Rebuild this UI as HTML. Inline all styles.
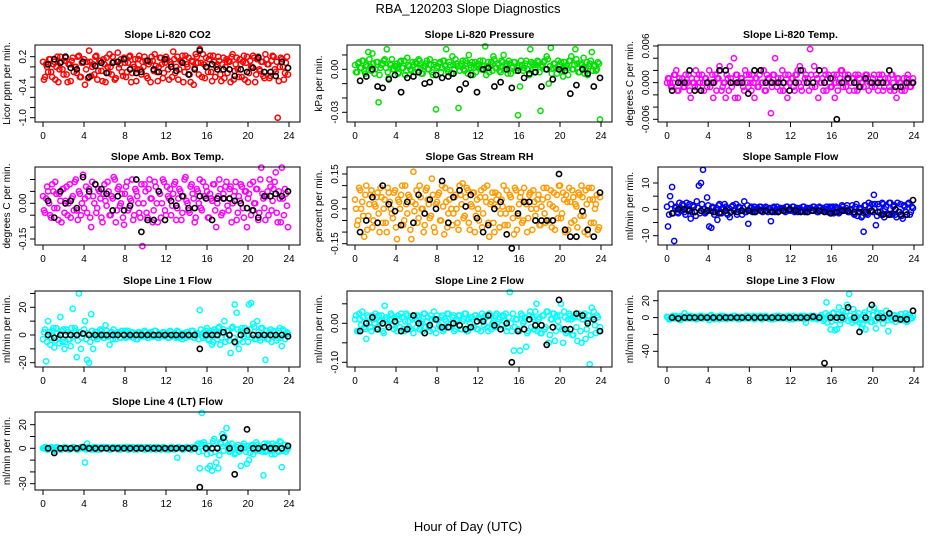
<!DOCTYPE html>
<html><head><meta charset="utf-8"><title>RBA_120203 Slope Diagnostics</title>
<style>
html,body{margin:0;padding:0;background:#fff;}
svg{display:block;font-family:"Liberation Sans",sans-serif;}
</style></head>
<body>
<svg id="chart" width="936" height="540" viewBox="0 0 936 540" xmlns="http://www.w3.org/2000/svg">
<rect x="0" y="0" width="936" height="540" fill="#fff"/>
<text x="468" y="13" text-anchor="middle" font-size="13">RBA_120203  Slope Diagnostics</text>
<text x="468" y="531" text-anchor="middle" font-size="13">Hour of Day (UTC)</text>
</svg>
<script>
// ---- shared hour arrays ----
const hours = [0.1,0.3,0.5,0.7,0.9,1.1,1.3,1.5,1.7,1.9,2.1,2.3,2.5,2.7,2.9,3.1,3.3,3.5,3.7,3.9,4.1,4.3,4.5,4.7,4.9,5.1,5.3,5.5,5.7,5.9,6.1,6.3,6.5,6.7,6.9,7.1,7.3,7.5,7.7,7.9,8.1,8.3,8.5,8.7,8.9,9.1,9.3,9.5,9.7,9.9,10.1,10.3,10.5,10.7,10.9,11.1,11.3,11.5,11.7,11.9,12.1,12.3,12.5,12.7,12.9,13.1,13.3,13.5,13.7,13.9,14.1,14.3,14.5,14.7,14.9,15.1,15.3,15.5,15.7,15.9,16.1,16.3,16.5,16.7,16.9,17.1,17.3,17.5,17.7,17.9,18.1,18.3,18.5,18.7,18.9,19.1,19.3,19.5,19.7,19.9,20.1,20.3,20.5,20.7,20.9,21.1,21.3,21.5,21.7,21.9,22.1,22.3,22.5,22.7,22.9,23.1,23.3,23.5,23.7,23.9];
const hours2 = [0.0,0.2,0.4,0.6,0.8,1.0,1.2,1.4,1.6,1.8,2.0,2.2,2.4,2.6,2.8,3.0,3.2,3.4,3.6,3.8,4.0,4.2,4.4,4.6,4.8,5.0,5.2,5.4,5.6,5.8,6.0,6.2,6.4,6.6,6.8,7.0,7.2,7.4,7.6,7.8,8.0,8.2,8.4,8.6,8.8,9.0,9.2,9.4,9.6,9.8,10.0,10.2,10.4,10.6,10.8,11.0,11.2,11.4,11.6,11.8,12.0,12.2,12.4,12.6,12.8,13.0,13.2,13.4,13.6,13.8,14.0,14.2,14.4,14.6,14.8,15.0,15.2,15.4,15.6,15.8,16.0,16.2,16.4,16.6,16.8,17.0,17.2,17.4,17.6,17.8,18.0,18.2,18.4,18.6,18.8,19.0,19.2,19.4,19.6,19.8,20.0,20.2,20.4,20.6,20.8,21.0,21.2,21.4,21.6,21.8,22.0,22.2,22.4,22.6,22.8,23.0,23.2,23.4,23.6,23.8];
const blackHours = [0.5,1.1,1.7,2.2,2.7,3.3,3.9,4.5,5.1,5.7,6.2,6.8,7.3,7.9,8.5,9.1,9.6,10.2,10.8,11.3,11.9,12.5,13.0,13.6,14.2,14.8,15.3,15.9,16.5,17.0,17.6,18.2,18.7,19.3,19.9,20.5,21.0,21.6,22.2,22.7,23.3,23.9];
const xTicks = [0,4,8,12,16,20,24];

// ---- series values ----
const co2 = [-0.25,0.05,-0.1,0.15,-0.2,0.1,0.0,-0.3,0.2,-0.05, 0.12,-0.15,0.05,-0.28,0.18,0.0,-0.12,0.22,-0.2,0.08, -0.35,0.1,0.32,-0.18,0.05,0.2,-0.25,0.12,-0.08,0.15, -0.3,0.0,0.25,-0.15,0.1,-0.22,0.28,0.05,-0.1,0.18, -0.2,0.08,0.22,-0.12,0.0,-0.28,0.15,-0.05,0.1,0.2, -0.18,0.05,-0.3,0.12,0.25,-0.1,0.0,0.18,-0.22,0.08, 0.15,-0.25,0.05,0.3,-0.12,0.2,-0.05,0.1,-0.3,0.22, 0.0,-0.15,0.12,-0.35,0.25,0.08,0.35,-0.2,0.05,0.18, -0.1,0.22,-0.28,0.1,0.0,0.2,-0.15,0.05,-0.22,0.15, 0.12,-0.3,0.25,-0.08,0.18,-0.2,0.05,0.1,-0.25,0.2, -0.12,0.0,0.22,-0.3,0.15,-0.05,0.1,-0.18,0.25,0.05, -0.22,0.12,0.2,-0.1,-1.0,0.0,0.15,-0.25,0.08,-0.15];
const co2B = [0.1,-0.2,0.0,0.15,-0.1,0.05,-0.25,0.2,-0.05,0.1, -0.15,0.18,-0.3,0.05,0.12,-0.1,0.0,0.2,-0.2,0.08, 0.15,-0.05,-0.22,0.1,0.0,-0.15,0.22,-0.08,0.12,-0.28, 0.05,0.18,-0.12,0.0,0.2,-0.25,0.1,-0.02,0.15,-0.18, 0.08,-0.1,0.2,-0.3,0.05,0.15,-0.05,0.22,-0.15,0.0, 0.12,-0.22,0.1,0.2,-0.08,0.02,-0.28,0.18,0.05,-0.12, 0.2,-0.05,0.1,-0.2,0.15,0.0,-0.25,0.12,0.22,-0.1, 0.05,0.18,-0.3,0.1,-0.02,0.2,-0.15,0.08,0.25,-0.22, 0.0,0.15,-0.1,0.22,-0.2,0.05,0.12,-0.28,0.18,0.0, -0.12,0.1,0.2,-0.25,0.05,-0.05,0.15,-0.2,0.22,0.08, -0.3,0.12,0.0,0.18,-0.15,0.2,-0.08,0.1,-0.22,0.15, 0.05,-0.18,0.22,-0.05,0.1,-0.28,0.18,0.0,-0.12,0.2];
const co2Black = [0.05,0.15,0.08,0.2,-0.02,-0.05,0.1,-0.2,0.02,0.08,-0.12,0.08,0.1,0.15,-0.05,-0.12,-0.1,0.12,-0.05,-0.1,0.15,0.0,-0.08,0.08,-0.15,-0.05,0.32,0.0,0.05,-0.05,-0.05,-0.05,-0.18,-0.05,-0.1,-0.02,0.18,-0.1,-0.1,-0.18,0.1,-0.02];

const pressure = [-.002,.004,.001,.006,-.001,.003,.012,.002,.011,-.003, .005,-.023,.001,.004,.007,.014,-.006,.003,.0,.002, .004,-.002,.006,.001,-.004,.008,.002,-.001,.003,.005, .001,.006,-.003,.002,.004,.0,.007,-.002,.003,-.028, .002,.005,.001,.006,.014,-.002,.003,.009,.0,.004, -.027,.002,.006,-.001,.004,.01,.001,-.004,.005,.002, .003,.0,.006,.016,.002,-.002,.005,.009,.001,.004, -.001,.006,.01,.002,-.003,.004,.001,.005,-.001,-.032, -.012,.003,.001,.006,.0,.014,.004,-.002,.003,.005, -.029,.002,.006,.009,-.01,.015,.001,.004,-.003,.002, .005,-.005,.001,.003,.006,.009,.0,.014,.004,-.002, .003,.008,.001,-.004,.004,.012,.002,-.001,.005,-.035];
const pressureB = [.003,-.002,.005,.001,.006,-.003,.002,.007,-.001,.004, .0,.005,-.004,.003,.006,.001,-.002,.004,.007,.0, .002,-.003,.005,.001,.006,-.001,.003,.0,.005,-.002, .004,.007,.001,-.003,.002,.006,.0,.003,-.004,.005, .001,.004,-.002,.006,.002,.0,.005,-.003,.003,.007, .002,-.001,.004,.0,.006,-.003,.003,.005,.001,-.002, .004,.006,.0,.002,-.004,.005,.003,-.001,.007,.001, .003,-.002,.005,.0,.004,.006,-.003,.002,.005,.001, .002,.006,-.001,.004,.0,-.004,.005,.003,.001,.006, -.002,.003,.005,.0,.007,.002,-.003,.004,.001,.006, .003,-.001,.005,.002,-.004,.006,.0,.003,.007,-.002, .004,.001,-.003,.005,.002,.006,-.001,.003,.0,.004];
const pressureBlack = [-.008,-.005,.0,-.012,-.013,-.007,-.004,-.016,-.006,-.005,-.002,-.01,-.009,-.004,-.006,-.005,-.003,-.014,-.01,-.004,-.016,.0,.001,-.012,-.009,.0,-.013,-.001,-.006,-.003,-.002,-.012,.0,-.007,.0,-.001,-.017,-.011,.0,-.003,-.012,-.006];

const liTemp = [.0007,0,-.0007,.0013,.002,-.0013,0,.0007,-.0007,0, .0013,-.0025,0,-.0007,.0007,.0013,-.0013,0,.0007,-.0007, .002,0,-.0025,.0013,.0007,.0027,-.0013,0,-.0025,.0007, .0027,-.0007,.004,.0013,-.0025,0,.0007,-.0013,.0013,-.0007, 0,.0013,-.0025,.0007,-.0007,.002,0,-.0013,.0013,.0007, -.005,.0013,.004,-.0007,0,.0007,-.0013,.0013,-.0025,0, .0007,-.0007,.0013,.002,.0027,-.0013,0,.0013,.0007,.0055, -.0007,.0027,.0013,-.0025,0,.0007,.002,-.0013,.0013,-.0007, .0007,-.0025,.0013,0,.002,-.0007,.0013,.0007,-.0013,0, .0007,.0013,-.0013,.0007,0,-.0007,.0013,.0007,0,-.0007, .0013,0,-.0013,.0007,.0013,-.0007,0,.0007,-.0013,.0013, -.0013,-.0025,.0007,0,-.0007,-.0013,.0007,0,-.0007,.0007];
const liTempB = [0,.0007,-.0007,0,.0013,-.0013,.0007,0,-.0007,.0013, 0,-.0013,.0007,0,.002,-.0007,0,.0013,-.0013,.0007, 0,-.0007,.0013,0,-.0013,.0007,.002,-.0007,0,.0013, -.0013,.0007,0,-.0025,.0013,0,.0007,-.0007,.002,0, .0013,-.0013,0,.0007,-.0007,.0013,0,.002,-.0013,.0007, 0,-.0007,.0013,0,.0007,-.0013,.002,0,-.0007,.0013, 0,.0007,-.0013,.0013,0,-.0007,.002,.0007,0,-.0013, .0013,0,-.0007,.0007,.002,0,-.0013,.0013,.0007,0, -.0007,.0013,0,-.0013,.0007,.002,0,-.0007,.0013,0, .0007,-.0013,0,.0013,-.0007,0,.0007,.0013,-.0013,0, .0007,-.0007,0,.0013,0,-.0013,.0007,0,-.0007,.0013, 0,-.0007,.0007,0,-.0013,.0007,0,.0013,-.0007,0];
const liTempBlack = [-.0013,0,0,.002,-.0013,-.0013,0,0,.002,.002,0,0,0,-.0018,.002,.002,0,0,0,0,-.0013,0,.002,0,0,.002,0,.0007,-.006,0,.0007,0,-.0007,.0007,0,0,0,.002,-.0007,-.0007,0,0];

const ambTemp = [-.03,.02,.05,-.05,.08,-.02,.04,-.07,.01,.06, -.04,.07,.0,-.06,.03,.09,-.03,.05,-.05,.12, .02,-.04,.06,-.1,.03,.08,-.02,.05,-.06,.04, .01,.09,-.05,.03,.11,-.08,.06,-.01,.04,-.09, .07,-.03,.02,.1,-.05,.05,.0,-.06,-.18,.08, -.04,.06,.02,-.08,.09,.0,.05,-.06,.1,-.03, .07,.02,-.05,.04,.09,-.02,.06,-.07,.03,.11, .0,-.04,.08,.02,-.06,.05,.1,-.03,.03,.07, -.06,.04,.01,.08,-.1,.03,.06,-.04,.02,.09, -.03,.07,.0,.05,-.07,.03,.08,-.02,.05,-.1, .04,-.05,.09,.0,.06,-.04,.15,.02,-.07,.05, .1,-.03,.06,.13,-.08,.02,.15,-.05,.04,-.1];
const ambTempB = [.03,-.04,.07,.0,-.06,.05,.09,-.02,.04,-.08, .06,.01,-.05,.08,.02,-.03,.1,-.07,.04,.0, -.02,.07,.03,-.06,.09,.0,-.04,.06,.02,-.08, .08,-.01,.05,-.05,.02,.1,-.03,.07,.0,-.06, .04,.09,-.02,.01,-.07,.06,.03,-.04,.08,.0, .05,-.06,.1,.02,-.03,.07,-.08,.04,.0,.09, -.05,.03,.06,-.01,.08,-.07,.02,.05,-.04,.1, .01,-.03,.07,.04,-.08,.06,.0,-.02,.09,.03, .05,-.06,.02,.08,-.03,.0,.1,-.05,.04,.07, -.01,.06,-.08,.03,.09,-.04,.01,.07,-.06,.05, .02,.08,-.03,.0,.06,-.07,.1,.04,-.02,.03, -.05,.07,.01,.09,-.04,.05,-.08,.02,.06,-.01];
const ambTempBlack = [.01,-.06,.05,.0,.01,-.02,.11,.05,.08,.06,.04,-.03,.03,-.03,-.01,.1,-.12,-.07,-.07,.05,-.07,.01,-.01,.03,-.02,-.02,.03,.02,-.07,.02,.02,.02,.01,.0,-.02,-.03,-.06,.03,.03,.04,.03,.05];

const rh = [.0,-.05,.08,.03,-.12,.1,-.03,.06,-.08,.02, .05,-.02,.09,-.06,.04,-.1,.07,.0,-.04,.08, -.13,.03,.06,-.07,.1,-.02,.05,-.13,.16,.02, -.06,.1,.0,-.1,.08,.04,-.04,.13,-.08,.02, .06,-.05,.1,-.11,.03,-.02,.08,-.07,.05,.0, -.09,.06,.11,-.03,.09,-.06,.02,.07,-.1,.04, -.05,.08,-.02,.05,.1,-.12,.03,-.06,.07,.01, -.08,.04,.1,-.02,-.07,.06,.0,-.11,.08,-.03, .05,-.06,.09,.02,-.04,.07,-.09,.03,.0,.06, -.07,.04,-.02,.09,-.05,.08,.01,-.09,.06,.1, -.04,.07,-.1,.03,.09,-.06,.05,.02,-.08,.06, .1,-.03,.08,-.11,.04,.09,-.06,.02,-.09,.05];
const rhB = [.04,-.07,.09,.0,-.03,.06,-.09,.02,.08,-.05, .01,.07,-.1,.05,.0,-.06,.09,.03,-.02,.07, -.08,.04,.0,.1,-.05,.02,.06,-.09,.03,-.01, .08,-.04,.05,.0,-.07,.09,.02,-.03,.06,-.1, .03,.07,-.05,.01,.09,-.08,.04,.0,-.02,.06, -.06,.1,.02,-.04,.05,.08,-.09,.01,.07,-.03, .0,.05,-.08,.09,.03,-.06,.02,.07,-.1,.04, .06,-.02,.01,-.07,.08,.0,.05,-.04,.09,-.09, .02,.07,-.05,.03,-.1,.06,.0,.08,-.03,.04, -.07,.01,.09,-.06,.05,.02,-.08,.07,.0,-.04, .1,-.02,.04,.06,-.09,.03,.08,-.05,.01,.07, -.03,.05,-.1,.02,.09,-.06,.04,.0,.06,-.08];
const rhBlack = [-.1,-.05,.05,-.06,.1,.02,-.01,-.07,.03,-.06,.06,-.02,.04,.0,.12,-.06,.05,.08,.01,.06,-.04,-.1,-.07,.0,.03,-.11,-.17,-.02,.03,.03,-.05,-.05,-.05,-.05,.15,-.09,-.12,-.12,-.01,-.09,-.12,.07];

const sampleFlow = [-6.5,5,8.5,-12,1,-1.5,0.5,2,-1,2.5, -0.5,-3.5,1.5,-1,3,9,10,15,-1.5,4.5, -6.5,-7,0.5,-1,-4,2,-1.5,0.5,1,-2, -3,1,-0.5,2,-1,0.5,-2,3,-1,-5.5, 0.5,-1,1,-0.5,0,1,-1,0.5,-0.5,0, -4.5,0.5,-1,1,-0.5,0,0.5,-1,1,0, -0.5,1,0,-1,0.5,-0.5,1,0,-1,0.5, -0.5,1,0,-1,0.5,-0.5,0,1,-1,0.5, 1,-1,0.5,-1.5,0,1,-0.5,1.5,-1,0, -1.5,1,-2.5,0.5,-3,-8.5,1.5,-2,0.5,2, 5.5,-6,2,-1,2.5,-3,1,-2,2.5,-1.5, 1.5,-3,-1,2,-3.5,1,-2,2.5,-1,0.5];
const sampleFlowB = [1,-2,2,-1.5,0.5,-1,2.5,-0.5,1.5,-2, 0,2,-1,1,-2.5,0.5,-1.5,2,0,-1, 1.5,-0.5,1,-2,0.5,1.5,-1,0,2,-1.5, 0.5,-1,1.5,0,-2,1,-0.5,0.5,-1,1.5, -0.5,1,0,-1,0.5,1,-0.5,0,1,-1, 0.5,-0.5,1,0,-1,0.5,0,-0.5,1,-0.5, 0,1,-1,0.5,0,-0.5,1,-1,0.5,0, -0.5,1,0,-1,1,-0.5,0.5,0,-1,1, 0.5,-1.5,1,0,-1,1.5,-0.5,0.5,-1,0, 1.5,-2,2,-1,0,-2.5,1.5,-1.5,2.5,-0.5, -1,2,-2.5,1,-2,2,0,-1.5,2.5,-2, 1,-2,2.5,-1,-2.5,1.5,-1,2,-2,1];
const sampleFlowBlack = [-1.5,0,0,-0.5,-1,-0.5,-0.5,-1,-1.5,-0.5,-1,-1,-0.5,-0.5,-1,-0.5,-0.5,-1,-1,-0.5,0,-0.5,-1,-1,-0.5,-0.5,-1,-1.5,-1,-0.5,-0.5,-1,-1,-1,-0.5,-1,-2,-2,0,-2,-2,3.5];

const line1 = [2,-19,10,-7,3,-9,5,-2,13,-5, -10,4,-3,-8,19,5,-16,30,-10,1, 10,-18,-20,15,-10,2,-3,1,3,-2, 7,-1,-7,2,4,-3,1,-2,3,0, -2,3,-1,2,0,-3,2,1,-1,3, 0,-2,2,-1,3,0,-2,1,2,-1, 1,-2,2,0,-1,3,-2,1,0,-2, 2,-1,3,-2,0,1,18,-1,2,3, -3,1,-7,4,0,5,-7,2,10,-2, 3,-13,6,22,16,-10,3,-5,5,0, 22,23,8,-3,10,-2,5,0,-18,-3, 2,-5,3,0,-2,5,-8,3,0,1];
const line1B = [-3,4,-5,2,-2,5,-4,1,-6,3, 4,-5,2,-3,5,-1,3,-4,2,-2, 4,-3,1,-5,3,-2,2,-1,4,0, -2,3,-1,2,-3,1,0,2,-2,1, 3,-1,0,2,-2,1,-3,2,0,-1, 2,-2,1,0,-1,3,-2,1,-1,2, 0,-2,3,-1,1,-2,2,0,-3,1, 2,-1,0,3,-2,1,-3,4,-2,0, 5,-4,3,-5,2,-3,6,-2,4,-5, 3,-4,5,-2,-6,4,-3,5,-1,3, -5,4,-2,6,-3,2,-4,5,-2,3, -3,4,-1,2,-4,3,-2,4,-3,2];
const line1Black = [0,-2,0,0,0,0,1,0,0,0,0,0,0,0,0,0,0,0,0,0,0,0,0,0,0,0,-10,0,0,0,2,0,-5,0,3,0,0,0,0,0,0,-1];

const line2 = [.02,-.02,.01,.03,-.01,-.04,.015,-.01,.02,.0, -.015,.02,.005,-.02,.045,.01,-.01,.025,-.005,.015, -.02,.01,.025,-.015,.005,.02,-.01,.015,-.025,.01, .02,-.015,.005,.025,-.01,.015,-.02,.01,.03,-.025, .01,-.01,.02,-.015,.005,.025,-.01,.015,-.02,.01, .02,-.015,.005,.025,-.02,.01,.015,-.01,.02,-.015, .015,-.02,.01,.02,-.01,.025,-.015,.005,.02,-.01, .015,-.005,.02,.025,-.01,.08,-.02,-.07,.01,-.015, -.07,.02,.005,-.06,-.02,.03,.015,-.015,.05,.01, -.025,.02,-.015,.03,-.05,.01,.025,-.045,.02,-.01, .05,-.05,.015,-.02,.025,.01,-.03,.02,-.045,.015, -.05,.02,-.04,.005,-.105,.04,.03,-.025,.015,-.01];
const line2B = [.01,-.02,.025,-.005,.015,-.015,.02,.0,-.02,.01, .025,-.01,.005,.02,-.025,.015,-.005,.01,.02,-.015, .0,.02,-.01,.015,-.02,.025,.005,-.015,.01,.02, -.01,.015,.0,-.02,.025,.005,-.01,.02,-.015,.01, .02,-.005,.015,-.02,.01,.025,-.01,.0,.02,-.015, .005,.02,-.015,.01,.025,-.02,.0,.015,-.01,.02, -.015,.01,.025,-.005,.015,-.02,.02,.0,-.01,.025, .01,-.015,.02,.005,-.02,.015,.0,.025,-.01,.01, -.02,.025,.0,.015,-.025,.02,-.01,.01,.03,-.02, .015,-.025,.02,-.01,.03,-.03,.01,.025,-.02,.005, .02,-.015,.03,-.025,.01,.02,-.03,.015,-.01,.025, -.02,.01,.025,-.015,.02,-.03,.015,-.005,.02,-.02];
const line2Black = [-.02,.0,.015,-.015,.0,-.01,.005,-.02,-.015,.02,.0,-.025,-.005,.01,-.01,-.01,.0,-.005,-.015,-.01,.005,.005,.02,-.005,-.015,.0,-.1,-.02,-.015,.01,-.005,-.005,-.055,-.01,.06,-.015,-.015,.025,.02,.0,.01,-.02];

const line3 = [0,-2,1,-1,2,0,-3,1,5,-1, 0,2,-1,1,-2,0,2,-1,1,0, -3,3,0,-1,1,-2,0,2,-1,1, 0,-1,2,0,-2,1,-1,0,2,-1, 1,0,-2,1,0,2,-1,0,1,-1, -2,0,1,-1,2,0,-1,1,0,-2, 0,2,-1,1,0,-1,2,-6,0,1, -1,2,0,-1,1,0,-2,18,3,-14, 5,-15,-14,12,-3,8,2,15,28,-2, 10,-4,1,-6,-13,3,-14,-2,10,-5, 12,-13,5,2,-1,-2,8,-16,1,-3, 2,-1,-2,4,-3,1,-5,3,0,2];
const line3B = [1,-2,0,2,-1,1,-2,2,0,-1, 2,-1,1,0,-2,1,2,-1,0,1, -1,2,0,-2,1,0,2,-1,1,-2, 0,1,-1,2,0,-2,1,0,-1,2, -1,0,2,-1,1,0,-2,1,2,-1, 0,1,-2,2,0,-1,1,0,-1,2, 1,-2,0,1,-1,2,0,-2,1,0, 2,-1,0,-2,1,3,-4,5,-6,2, -5,6,-3,4,-8,3,-2,7,-4,2, -6,4,-3,5,-2,-8,6,-3,4,-5, 3,-4,6,-2,5,-7,2,-3,4,-2, 3,-5,2,-3,4,-2,5,-4,3,-1];
const line3Black = [0,-1,0,0,0,0,0,0,0,0,0,0,0,0,0,0,0,0,0,0,0,0,0,0,1,0,-54,0,0,0,12,0,-17,0,15,0,0,5,-1,-2,-2,8];

const line4 = [0,1,-1,0,0,-2,1,0,-1,0, 1,0,-1,0,1,0,-1,0,1,0, -12,4,0,-1,1,0,-1,0,1,0, 0,1,-1,0,1,0,-1,0,0,1, 0,-1,1,0,-1,0,1,0,0,-1, 1,0,-1,0,1,0,0,-1,1,0, 0,-1,1,0,0,-8,1,0,-1,0, 1,0,-1,0,0,4,-17,30,5,1, -17,-15,-19,8,-12,-17,5,12,10,17, 3,-2,0,-5,1,-3,-15,2,0,-13, -10,2,-5,1,3,-2,0,-23,-3,4, 2,-5,0,3,-2,6,-16,3,-3,0];
const line4B = [0,1,-1,0,1,0,-1,1,0,-1, 0,1,0,-1,0,1,0,-1,0,1, 0,-1,1,0,0,-1,1,0,-1,0, 1,0,0,-1,1,0,0,1,-1,0, 0,1,-1,0,1,0,-1,0,1,0, -1,0,1,0,0,-1,1,0,0,1, -1,0,0,1,-1,0,1,0,-1,0, 1,0,-1,1,0,2,-3,4,-2,3, -5,2,-4,6,-3,1,-6,4,-2,5, 2,-3,4,-1,-4,3,-2,1,4,-3, 2,-4,3,-1,5,-2,1,-3,4,-2, 3,-2,4,-5,2,-3,5,-2,3,-1];
const line4Black = [0,-4,0,0,0,0,1,0,0,0,0,0,0,0,0,0,0,0,0,0,0,0,0,0,0,0,-33,0,0,0,9,0,-22,0,16,0,0,1,0,0,0,2];

// ---- tick values / labels ----
const co2Ticks = [0.2,0,-0.2,-0.4,-0.6,-0.8,-1.0], co2Labels = ["0.2","-0.4","-1.0"];
const presTicks = [0.01,0,-0.01,-0.02,-0.03], presLabels = ["0.00","-0.03"];
const liTempTicks = [.006,.004,.002,0,-.002,-.004,-.006], liTempLabels = ["0.006","0.000","-0.006"];
const ambTicks = [.10,.05,0,-.05,-.10,-.15], ambLabels = ["0.00","-0.15"];
const rhTicks = [.15,.10,.05,0,-.05,-.10,-.15], rhLabels = ["0.15","0.00","-0.15"];
const sfTicks = [10,5,0,-5,-10], sfLabels = ["10","0","-10"];
const l1Ticks = [30,20,10,0,-10,-20], l1Labels = ["20","0","-20"];
const l2Ticks = [.05,0,-.05,-.10], l2Labels = ["0.00","-0.10"];
const l3Ticks = [20,0,-20,-40], l3Labels = ["20","0","-40"];
const l4Ticks = [20,10,0,-10,-20,-30], l4Labels = ["20","0","-30"];

// ---- layout (not data) ----
const cols = [{bx0:35,bx1:300,h0:43,h24:289},{bx0:347,bx1:612,h0:355,h24:601},{bx0:658,bx1:923,h0:667,h24:914}];
const rows = [{by0:45,by1:122,ty:38},{by0:167,by1:245,ty:160},{by0:291,by1:367,ty:284},{by0:412,by1:490,ty:405}];

const panels = [
 {name:"co2",title:"Slope Li-820 CO2",ylab:"Licor ppm per min.",col:0,row:0,color:"#ff0000",vals:co2,vals2:co2B,blk:co2Black,ticks:co2Ticks,labels:co2Labels,a:[0.2,56.7],b:[-1.0,117.7]},
 {name:"pressure",title:"Slope Li-820 Pressure",ylab:"kPa per min.",col:1,row:0,color:"#00e000",vals:pressure,vals2:pressureB,blk:pressureBlack,ticks:presTicks,labels:presLabels,a:[0,69.3],b:[-0.03,112.3]},
 {name:"li820-temp",title:"Slope Li-820 Temp.",ylab:"degrees C per min.",col:2,row:0,color:"#ff00ff",vals:liTemp,vals2:liTempB,blk:liTempBlack,ticks:liTempTicks,labels:liTempLabels,a:[0.006,46],b:[-0.006,119.3]},
 {name:"amb-box-temp",title:"Slope Amb. Box Temp.",ylab:"degrees C per min.",col:0,row:1,color:"#ff00ff",vals:ambTemp,vals2:ambTempB,blk:ambTempBlack,ticks:ambTicks,labels:ambLabels,a:[0,203.3],b:[-0.15,239]},
 {name:"gas-stream-rh",title:"Slope Gas Stream RH",ylab:"percent per min.",col:1,row:1,color:"#ff9a00",vals:rh,vals2:rhB,blk:rhBlack,ticks:rhTicks,labels:rhLabels,a:[0.15,174],b:[-0.15,243.7]},
 {name:"sample-flow",title:"Slope Sample Flow",ylab:"ml/min per min.",col:2,row:1,color:"#0000ff",vals:sampleFlow,vals2:sampleFlowB,blk:sampleFlowBlack,ticks:sfTicks,labels:sfLabels,a:[10,183],b:[-10,235.7]},
 {name:"line1-flow",title:"Slope Line 1 Flow",ylab:"ml/min per min.",col:0,row:2,color:"#00ffff",vals:line1,vals2:line1B,blk:line1Black,ticks:l1Ticks,labels:l1Labels,a:[20,307.3],b:[-20,362.7]},
 {name:"line2-flow",title:"Slope Line 2 Flow",ylab:"ml/min per min.",col:1,row:2,color:"#00ffff",vals:line2,vals2:line2B,blk:line2Black,ticks:l2Ticks,labels:l2Labels,a:[0,323.3],b:[-0.1,362.3]},
 {name:"line3-flow",title:"Slope Line 3 Flow",ylab:"ml/min per min.",col:2,row:2,color:"#00ffff",vals:line3,vals2:line3B,blk:line3Black,ticks:l3Ticks,labels:l3Labels,a:[20,300.7],b:[-40,351.3]},
 {name:"line4-flow",title:"Slope Line 4 (LT) Flow",ylab:"ml/min per min.",col:0,row:3,color:"#00ffff",vals:line4,vals2:line4B,blk:line4Black,ticks:l4Ticks,labels:l4Labels,a:[20,424.7],b:[-30,483.7]}
];

const NS = "http://www.w3.org/2000/svg";
const svg = document.getElementById("chart");
function mk(tag, attrs, parent){ const e=document.createElementNS(NS,tag); for(const k in attrs) e.setAttribute(k,attrs[k]); (parent||svg).appendChild(e); return e; }

panels.forEach(p=>{
  const c = cols[p.col], r = rows[p.row];
  const xs = h => c.h0 + (h/24)*(c.h24-c.h0);
  const ys = v => p.a[1] + (v-p.a[0])*(p.b[1]-p.a[1])/(p.b[0]-p.a[0]);
  const g = mk("g",{});
  
  

  const t = mk("text",{x:(c.bx0+c.bx1)/2,y:r.ty,"text-anchor":"middle","font-size":"10.5","font-weight":"bold"},g);
  t.textContent = p.title;
  
  

  // points
  const pts = mk("g",{fill:"none","stroke-width":"1.5"},g);
  
  
  p.vals2.forEach((v,i)=>{
    const ci = mk("circle",{cx:xs(hours2[i]).toFixed(1),cy:ys(v).toFixed(1),r:"2.6",stroke:p.color},pts);
    
    
  });
  p.vals.forEach((v,i)=>{
    const ci = mk("circle",{cx:xs(hours[i]).toFixed(1),cy:ys(v).toFixed(1),r:"2.6",stroke:p.color},pts);
    
    
  });
  const bpts = mk("g",{fill:"none","stroke-width":"1.6"},g);
  
  
  p.blk.forEach((v,i)=>{
    const ci = mk("circle",{cx:xs(blackHours[i]).toFixed(1),cy:ys(v).toFixed(1),r:"2.6",stroke:"#000"},bpts);
    
    
  });

  // box
  const box = mk("rect",{x:c.bx0,y:r.by0,width:c.bx1-c.bx0,height:r.by1-r.by0,fill:"none",stroke:"#000","stroke-width":"1"},g);
  
  

  // x axis
  const xa = mk("g",{stroke:"#000","stroke-width":"1"},g);
  
  
  mk("line",{x1:xs(xTicks[0]),x2:xs(xTicks[xTicks.length-1]),y1:r.by1,y2:r.by1},xa);
  xTicks.forEach(h=>{
    mk("line",{x1:xs(h),x2:xs(h),y1:r.by1,y2:r.by1+5},xa);
    const tl = mk("text",{x:xs(h),y:r.by1+17,"text-anchor":"middle","font-size":"10",stroke:"none",fill:"#000"},xa);
    tl.textContent = String(h);
    
    
  });

  // y axis
  const ya = mk("g",{stroke:"#000","stroke-width":"1"},g);
  
  
  const tp = p.ticks.map(ys);
  mk("line",{x1:c.bx0,x2:c.bx0,y1:Math.min(...tp),y2:Math.max(...tp)},ya);
  p.ticks.forEach(v=>{ mk("line",{x1:c.bx0-5,x2:c.bx0,y1:ys(v),y2:ys(v)},ya); });
  p.labels.forEach(s=>{
    const y = ys(parseFloat(s)), x = c.bx0-9;
    const tl = mk("text",{x:x,y:y,"text-anchor":"middle","font-size":"10",stroke:"none",fill:"#000",transform:`rotate(-90 ${x} ${y})`},ya);
    tl.textContent = s;
    
    
  });
  const ly = (r.by0+r.by1)/2, lx = c.bx0-25;
  const yl = mk("text",{x:lx,y:ly,"text-anchor":"middle","font-size":"10",transform:`rotate(-90 ${lx} ${ly})`},g);
  yl.textContent = p.ylab;
  
  
});
</script>
</body></html>
